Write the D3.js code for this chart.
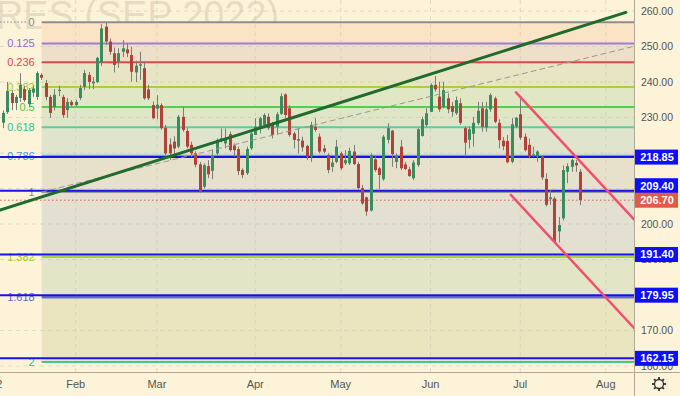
<!DOCTYPE html>
<html><head><meta charset="utf-8">
<script src="https://cdn.jsdelivr.net/npm/d3@7"></script>
<style>
html,body{margin:0;padding:0;background:#fdf3d9;}
svg{display:block;font-family:"Liberation Sans",Arial,sans-serif;}
</style>
</head><body>
<svg id="chart" width="680" height="396"></svg>
<script>
// ---------- DATA ----------
const opens  = [228.5,231.5,236.9,234.1,235.5,238,233.8,237,235.8,242,239.7,235.8,233,237.5,235.8,232.1,234.4,233.5,235.5,238.6,242,239.6,240,245.5,255.6,251.4,248.1,245.7,248.5,249.2,247.6,242.7,244.6,243.9,237.9,233.5,232.5,233.5,227.1,222.4,223.2,221.8,230.2,226.2,222.3,219.9,216.8,210.5,216.3,215,219.9,223.8,222.7,225.3,222.1,221.1,215.2,214.3,221.3,225.1,227,227.9,230.2,227.9,227.4,231,236.5,232.6,225.5,223.9,223.5,222,219,227.4,224.6,221.3,219.4,216.1,217.5,219.9,217.1,217.1,220.4,216.9,210.1,207.5,203.8,218.2,215.7,212.6,223.7,226.3,217.5,221.8,216.8,215.4,212.9,216.6,224.8,227.9,231.6,239.2,235.9,233,235.4,233.2,231.2,234,227,223.7,225.4,228.4,232.6,227.2,232.3,235.4,228.5,223.5,223.4,217.5,227.4,230.9,224.6,222.3,219.3,219,219,212.7,207,207.2,197.9,201.6,214.7,216.1,217.2,214.7];
const highs  = [232,240,237.7,236.4,242.5,238.9,238.3,239,243,242.5,240.6,236.4,238,239,236.4,235.5,234.9,235,239.2,243.4,242.8,241.4,247.1,256.3,256.85,252.3,249.7,249.5,251.8,251,249.9,246,248.5,245.8,239.2,234.5,236.3,234,227.9,224.1,224.7,230.7,233,227,223.2,220.5,217.5,217.1,218,221,224.1,226.9,226.9,226,222.7,221.8,215.7,221.8,226,229.8,230.2,231.2,231.2,228.8,231.6,236.8,236.8,233.5,226,227,224.6,222.3,228.8,229.8,225.5,222.3,219.9,218.5,223.7,220.4,220.8,221.5,222.3,217.5,211,207.7,219.9,219,216.1,225.1,228.4,226.5,219.9,223.7,217.5,216.1,218,227,230.2,232.6,239.6,241.7,240.1,240.1,236.8,234.4,235.9,235.4,227.4,227.4,230.2,234.4,234.4,234.4,236.8,235.9,229.5,224.5,225.1,229.8,230.2,235.5,225.5,224.1,221.8,220.8,219.4,214.3,209.6,207.7,202,216.5,217.1,218.4,218,215.5];
const lows   = [227,231,232.1,232.1,234.4,234.4,233,235.8,235,240.6,234.9,229.9,232,236,229.9,229.9,233,233,234.9,237.7,238,238,239.7,244.5,250.5,247.7,242.7,244,247,247,240.1,240,240.6,235,234.9,229.5,229.5,226.5,219.4,218,219,221.3,226,221.3,218.8,216,208.8,210,212.9,212.6,219.4,223,221.3,220.4,219,213.8,212.9,213.8,220.8,225.1,225.5,227,226.5,224.1,225.1,230.7,229.8,224.6,221.3,219.9,220.4,218,217.5,226,219.9,219.9,214.3,214.7,217.1,215.2,216.6,216.6,216.6,209.8,205.4,202.3,203.5,214.7,209.8,212.2,222.7,216.1,215.7,215.2,215.2,213.3,212.4,216.1,224.6,227.4,231.6,237.3,231.6,232.6,231.2,230.2,230.7,227.9,219,221.3,221.8,227.9,226,226,231.6,228.4,221.3,220.8,217.1,217.1,227,223.7,220.4,218.5,219,217.5,212.4,204.9,205.4,194.6,194.8,201,211.5,214.7,214.7,205.3];
const closes = [231.3,237.5,234.1,235.8,239.2,234.9,237.7,238.2,242.5,241.2,235.8,231.3,236.4,237.8,230.7,234.4,233.5,234.4,238.3,242.5,240,240.1,246.8,255.1,251.4,248.5,244.8,248.1,249.5,248.1,242.9,244.6,245,235.4,235.4,229.8,233.6,227,219.9,219.9,221.3,230.2,226.5,221.8,219.9,216.7,209.1,216.6,214,219.2,223.7,224.2,224.2,220.8,220.8,214.9,213.8,221.1,225.5,227.4,229.8,230.7,227,225.1,230.9,236,230.7,225.1,223.7,223.5,221.6,219,227.9,226.5,220.4,220.4,215.2,217.3,221.8,215.7,218,220.6,216.9,210.1,205.8,203.5,219.4,215.2,213.8,224.6,227,219.7,219.2,215.7,215.5,213.5,217.3,226.7,229.5,231.2,239.2,237.9,232.3,237.7,232.3,231.6,234.9,228.5,222.9,226.7,228.5,231.9,227.4,232.3,236.3,228.8,223.6,221.9,217.4,228.1,229.9,224.3,220.8,219,219.6,220.4,213.1,205.4,207.5,195,199.7,215.2,216.3,218,216.5,206.7];

const monthLabels = ["2022","Feb","Mar","Apr","May","Jun","Jul","Aug"];
const monthBarIdx = [-3,17,36,59,79,100,121,141];

const priceTicks = [160,170,180,190,200,210,220,230,240,250,260];

const fibRatios  = [0,0.125,0.236,0.382,0.5,0.618,0.786,1,1.382,1.618,2];
const fibLabels  = ["0","0.125","0.236","0.382","0.5","0.618","0.786","1","1.382","1.618","2"];
const fibHigh = 256.85, fibLow = 209.0, fibStartIdx = 9.05;

const levelValues = [218.85,209.40,191.40,179.95,162.15];
const lastPrice = 206.70;

// trend lines: [idx0, price0, idx1, price1]
const greenTrend = [-0.7,203.9,145.7,259.6];
const dashTrend  = [9.05,209.0,147.4,250.0];
const redUpper   = [120.0,237.1,147.6,201.3];
const redLower   = [118.8,208.2,147.6,170.7];

// ---------- STYLE ----------
const fibLineColors  = ["#8e8e8e","#9a7fd6","#e04848","#a9d13e","#52cf4e","#5ccda2","#5aa8e6","#999999","#a8d33c","#6d6fc4","#3fc79b"];
const fibLabelColors = ["#8a8a8a","#8c70d8","#e04848","#9dcc27","#3dcc3d","#2fc08c","#3f9ce0","#8a8a8a","#9dcc27","#5f63c0","#2fc08c"];
const fibZoneColors  = ["#fbe4c6","#eee0c8","#e7e5c3","#e1e6c5","#dfe6c8","#e0e4cc","#e7e1cc","#e3dfd1","#e2e5c6","#ebe5bf"];

const W = 680, H = 396, plotR = 634, axisY = 372;
const svg = d3.select("#chart");

const x = d3.scaleLinear().domain([0,141]).range([3, 3 + 141*4.275]);
const y = d3.scaleLinear().domain([160,260]).range([366,11]);

svg.append("rect").attr("width",W).attr("height",H).attr("fill","#fdf3d9");

const defs = svg.append("defs");
defs.append("clipPath").attr("id","plotClip").append("rect").attr("x",0).attr("y",0).attr("width",plotR).attr("height",axisY);
defs.append("clipPath").attr("id","timeClip").append("rect").attr("x",0).attr("y",axisY).attr("width",plotR).attr("height",H-axisY);

const plot = svg.append("g").attr("clip-path","url(#plotClip)");

// watermark
plot.append("text").attr("x",-4).attr("y",29).attr("font-size",40)
  .attr("textLength",283).attr("lengthAdjust","spacingAndGlyphs")
  .attr("fill","rgba(150,140,120,0.22)").text("RES (SEP 2022)");

// fib zones
const fibPrice = r => fibHigh - r*(fibHigh - fibLow);
const xFib0 = x(fibStartIdx);
plot.selectAll("rect.zone").data(fibZoneColors).enter().append("rect")
  .attr("x", xFib0).attr("width", plotR - xFib0)
  .attr("y", (d,i)=> y(fibPrice(fibRatios[i])))
  .attr("height", (d,i)=> y(fibPrice(fibRatios[i+1])) - y(fibPrice(fibRatios[i])))
  .attr("fill", d=>d);

// grid
plot.selectAll("line.hg").data(priceTicks).enter().append("line")
  .attr("x1",0).attr("x2",plotR).attr("y1",d=>y(d)).attr("y2",d=>y(d))
  .attr("stroke","#cfc8b8").attr("stroke-dasharray","4,4").attr("stroke-width",1).attr("opacity",0.6);
plot.selectAll("line.vg").data(monthBarIdx).enter().append("line")
  .attr("x1",d=>x(d)).attr("x2",d=>x(d)).attr("y1",0).attr("y2",axisY)
  .attr("stroke","#cfc8b8").attr("stroke-dasharray","4,4").attr("stroke-width",1).attr("opacity",0.6);

// dotted line left of "0"
plot.append("line").attr("x1",0).attr("x2",26).attr("y1",y(fibHigh)).attr("y2",y(fibHigh))
  .attr("stroke","#9a9a9a").attr("stroke-dasharray","1.5,2").attr("stroke-width",1.2);

// fib lines
plot.selectAll("line.fib").data(fibRatios).enter().append("line")
  .attr("x1", xFib0).attr("x2", plotR)
  .attr("y1", d=>y(fibPrice(d))).attr("y2", d=>y(fibPrice(d)))
  .attr("stroke",(d,i)=>fibLineColors[i]).attr("stroke-width",(d,i)=> i===9?3:2);

// fib labels
plot.selectAll("text.fibl").data(fibRatios).enter().append("text")
  .attr("x", xFib0 - 7).attr("y", d=>y(fibPrice(d))).attr("dy","0.36em")
  .attr("text-anchor","end").attr("font-size",11)
  .attr("fill",(d,i)=>fibLabelColors[i]).text((d,i)=>fibLabels[i]);

// blue level lines
plot.selectAll("line.lvl").data(levelValues).enter().append("line")
  .attr("x1",0).attr("x2",plotR).attr("y1",d=>y(d)).attr("y2",d=>y(d))
  .attr("stroke","#1414e6").attr("stroke-width",2);

// last price dotted
plot.append("line").attr("x1",0).attr("x2",plotR).attr("y1",y(lastPrice)).attr("y2",y(lastPrice))
  .attr("stroke","#e0604a").attr("stroke-dasharray","1.5,2.5").attr("stroke-width",1);

// candles
const upCol = "#3a8c5e", dnCol = "#b0423a", wickCol = "#7d7d78";
const idxs = d3.range(opens.length);
const cg = plot.append("g");
cg.selectAll("line.w").data(idxs).enter().append("line")
  .attr("x1",i=>Math.round(x(i))+0.5).attr("x2",i=>Math.round(x(i))+0.5)
  .attr("y1",i=>y(highs[i])).attr("y2",i=>y(lows[i]))
  .attr("stroke",wickCol).attr("stroke-width",1);
cg.selectAll("rect.b").data(idxs).enter().append("rect")
  .attr("x",i=>Math.round(x(i))-1)
  .attr("width",3)
  .attr("y",i=>y(Math.max(opens[i],closes[i])))
  .attr("height",i=>Math.max(1, Math.abs(y(opens[i])-y(closes[i]))))
  .attr("fill",i=> closes[i]>=opens[i]?upCol:dnCol);

// trend lines
function tline(a, color, w, dash){
  const l = plot.append("line").attr("x1",x(a[0])).attr("y1",y(a[1])).attr("x2",x(a[2])).attr("y2",y(a[3]))
    .attr("stroke",color).attr("stroke-width",w).attr("stroke-linecap","round");
  if(dash) l.attr("stroke-dasharray",dash);
}
tline(dashTrend,"#9b9890",1,"5,4");
tline(greenTrend,"#1f6a2c",3);
tline(redUpper,"#f2506c",2.5);
tline(redLower,"#f2506c",2.5);

// axes separators
svg.append("line").attr("x1",0).attr("x2",W).attr("y1",axisY+0.5).attr("y2",axisY+0.5).attr("stroke","#b0a998").attr("stroke-width",1);
svg.append("line").attr("x1",plotR+0.5).attr("x2",plotR+0.5).attr("y1",0).attr("y2",H).attr("stroke","#b0a998").attr("stroke-width",1);

// level boxes with simple collision shift (like the platform does)
const boxH = 15;
const boxes = levelValues.map(v=>({v, c:"#0d0dff", cy:y(v)}));
const lastBox = {v:lastPrice, c:"#de5c48", cy:y(lastPrice)};
boxes.forEach(b=>{
  const d = b.cy - lastBox.cy;
  if (Math.abs(d) < boxH) b.cy = lastBox.cy + (d<0 ? -boxH+0.5 : boxH-0.5);
});
const allBoxes = boxes.concat([lastBox]);

// price axis tick labels (skip those fully hidden behind level boxes)
const visibleTicks = priceTicks.filter(t => !allBoxes.some(b => Math.abs(y(t)-b.cy) < 4.6));
const pa = svg.append("g");
pa.selectAll("text.pt").data(visibleTicks).enter().append("text")
  .attr("x",657).attr("y",d=>y(d)).attr("dy","0.36em").attr("text-anchor","middle")
  .attr("font-size",10.5).attr("fill","#555").text(d=>d3.format(".2f")(d));

const bg = pa.selectAll("g.box").data(allBoxes).enter().append("g");
bg.append("rect").attr("x",plotR+1).attr("width",43).attr("y",d=>d.cy-boxH/2).attr("height",boxH).attr("fill",d=>d.c);
bg.append("text").attr("x",657).attr("y",d=>d.cy).attr("dy","0.36em").attr("text-anchor","middle")
  .attr("font-size",11).attr("font-weight","bold").attr("fill","#fff").text(d=>d3.format(".2f")(d.v));

// time axis labels
const ta = svg.append("g").attr("clip-path","url(#timeClip)");
ta.selectAll("text").data(monthLabels).enter().append("text")
  .attr("x",(d,i)=>x(monthBarIdx[i])).attr("y",388).attr("text-anchor","middle")
  .attr("font-size",11).attr("fill","#555").text(d=>d);

// gear icon
const gear = svg.append("g").attr("transform","translate(659,384)");
d3.range(8).forEach(k=>{
  const a = k*Math.PI/4;
  gear.append("line").attr("x1",Math.cos(a)*4).attr("y1",Math.sin(a)*4).attr("x2",Math.cos(a)*7).attr("y2",Math.sin(a)*7)
    .attr("stroke","#333").attr("stroke-width",1.8);
});
gear.append("circle").attr("r",4.5).attr("fill","#fdf3d9").attr("stroke","#333").attr("stroke-width",1.3);
</script>
</body></html>
